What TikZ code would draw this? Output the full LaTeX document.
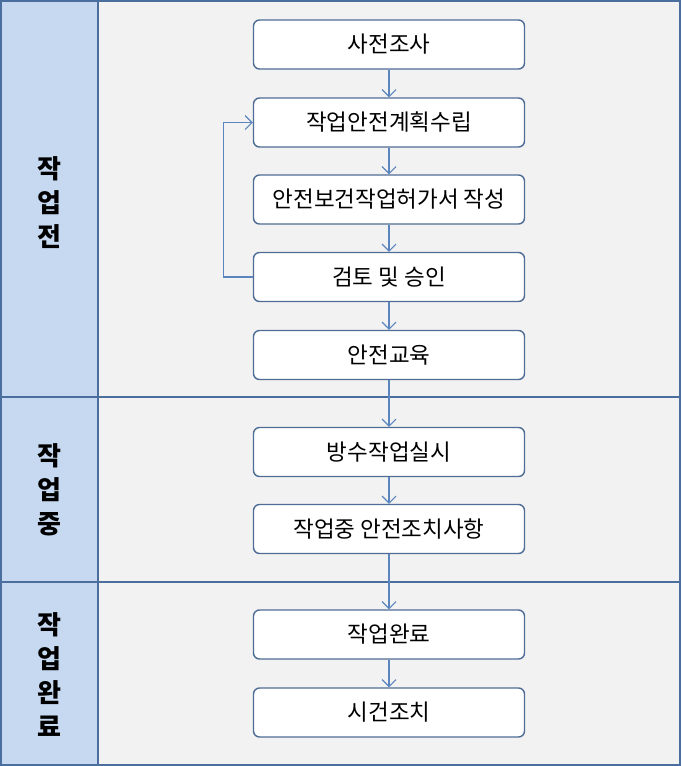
\documentclass[tikz,border=0pt]{standalone}
\usepackage{fontspec}
\newfontfamily\kr{Noto Sans CJK KR}
\usetikzlibrary{arrows.meta}
\definecolor{lane}{HTML}{C6D9F1}
\definecolor{bg}{HTML}{F2F2F2}
\definecolor{frame}{HTML}{4A6E9E}
\definecolor{boxline}{HTML}{4F6D96}
\definecolor{arr}{HTML}{5B85BF}
\tikzset{
  stepbox/.style={draw=boxline, line width=1.4pt, fill=white, rounded corners=6pt,
    minimum width=271pt, minimum height=49pt, inner sep=0pt, font=\kr\fontsize{22.5}{26}\selectfont},
  flow/.style={draw=arr, line width=1.1pt, -{Straight Barb[length=7pt,width=14pt]}},
  lanelabel/.style={font=\kr\bfseries\fontsize{26}{34}\selectfont, align=center, inner sep=0pt},
}
\begin{document}
\begin{tikzpicture}[x=1pt,y=-1pt]
\useasboundingbox (0,0) rectangle (681,766);
% backgrounds
\fill[bg] (0,0) rectangle (681,766);
\fill[lane] (0,0) rectangle (98,766);
\draw[frame, line width=1.3pt] (1,1) rectangle (680,765);
\draw[frame, line width=1.3pt] (98,1) -- (98,765);
\draw[frame, line width=1.3pt] (1,397) -- (680,397);
\draw[frame, line width=1.3pt] (1,582) -- (680,582);
% lane labels
\node[lanelabel] (L1) at (49,203) {작\\업\\전};
\node[lanelabel] (L2) at (49,490) {작\\업\\중};
\node[lanelabel] (L3) at (49,675) {작\\업\\완\\료};
% boxes
\node[stepbox] (b1) at (389,44.5) {사전조사};
\node[stepbox] (b2) at (389,122.5) {작업안전계획수립};
\node[stepbox] (b3) at (389,199.5) {안전보건작업허가서 작성};
\node[stepbox] (b4) at (389,277) {검토 및 승인};
\node[stepbox] (b5) at (389,355) {안전교육};
\node[stepbox] (b6) at (389,452) {방수작업실시};
\node[stepbox] (b7) at (389,529) {작업중 안전조치사항};
\node[stepbox] (b8) at (389,634.5) {작업완료};
\node[stepbox] (b9) at (389,712.5) {시건조치};
% arrows
\draw[flow] (b1) -- (b2);
\draw[flow] (b2) -- (b3);
\draw[flow] (b3) -- (b4);
\draw[flow] (b4) -- (b5);
\draw[flow] (b5) -- (b6);
\draw[flow] (b6) -- (b7);
\draw[flow] (b7) -- (b8);
\draw[flow] (b8) -- (b9);
\draw[flow] (b4.west) -- ++(-29,0) |- (b2.west);
\end{tikzpicture}
\end{document}
